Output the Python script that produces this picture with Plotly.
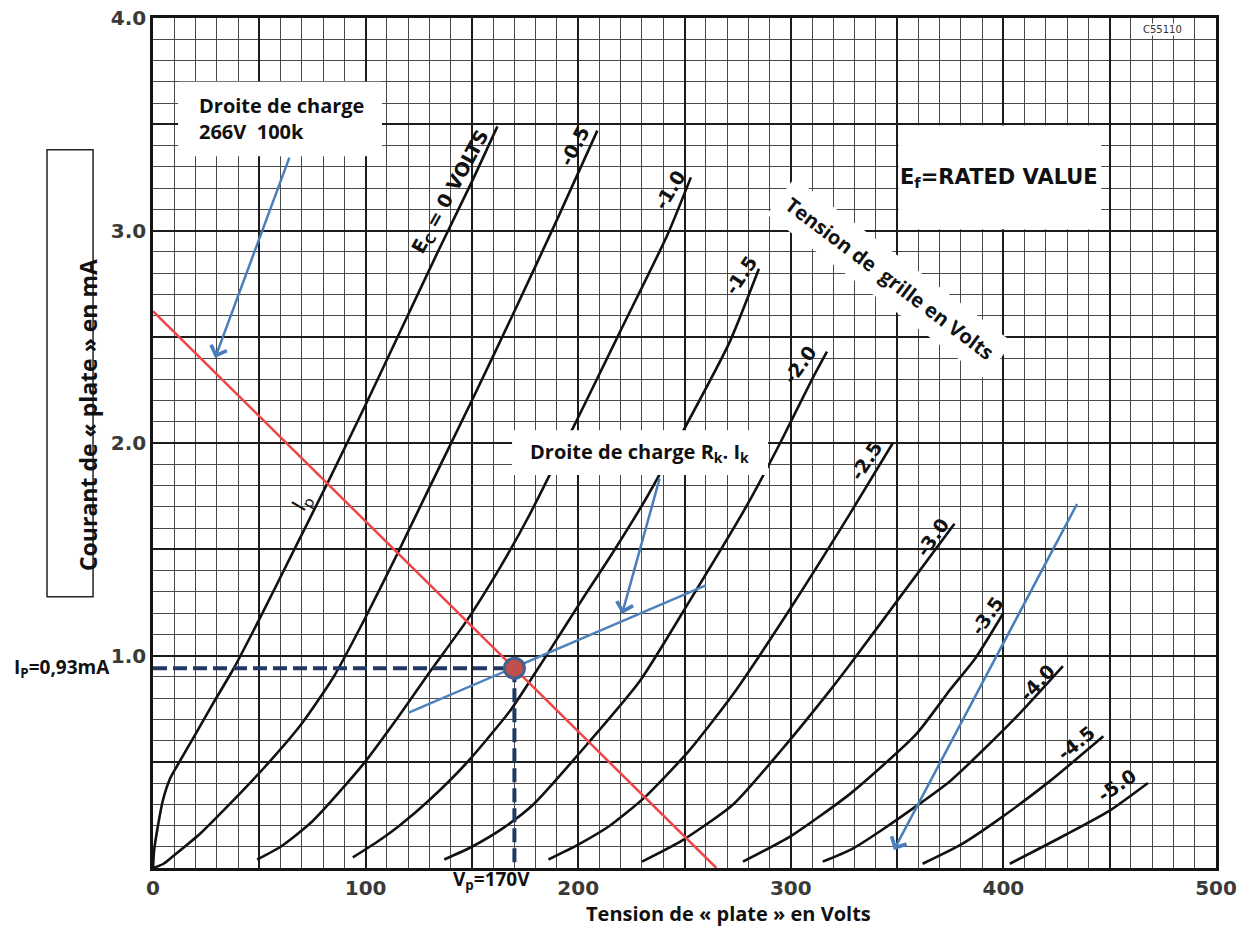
import plotly.graph_objects as go

# ---------------- data ----------------
ec0_v = [0, 0.5, 2, 4.7, 8, 11.3, 20, 28, 38, 51, 65, 83, 100, 117, 134, 150, 162]
ec0_i = [0, 0.08, 0.18, 0.32, 0.42, 0.48, 0.63, 0.77, 0.94, 1.19, 1.47, 1.83, 2.18, 2.54, 2.9, 3.23, 3.49]
m05_v = [0, 5, 10, 22, 35, 53, 70, 85, 100, 115, 130, 150, 170, 190, 209]
m05_i = [0, 0.02, 0.06, 0.16, 0.29, 0.48, 0.68, 0.9, 1.18, 1.48, 1.79, 2.2, 2.62, 3.05, 3.47]
m10_v = [49, 60, 75, 99, 116, 130, 148, 163, 177, 199, 220, 242, 253]
m10_i = [0.04, 0.1, 0.22, 0.49, 0.72, 0.92, 1.17, 1.41, 1.66, 2.1, 2.53, 2.98, 3.25]
m15_v = [94, 105, 116, 130, 148, 168, 176, 187, 201, 216, 232, 249, 271, 285]
m15_i = [0.05, 0.12, 0.2, 0.32, 0.5, 0.74, 0.86, 1.03, 1.25, 1.48, 1.74, 2.05, 2.47, 2.82]
m20_v = [137, 150, 165, 179, 204, 229, 252, 279, 295, 310, 317]
m20_i = [0.04, 0.1, 0.19, 0.30, 0.58, 0.88, 1.25, 1.7, 2.0, 2.3, 2.43]
m25_v = [186, 200, 215, 231, 252, 273, 301, 328, 348]
m25_i = [0.04, 0.11, 0.2, 0.33, 0.55, 0.82, 1.24, 1.67, 2.0]
m30_v = [230, 249, 273, 296, 318, 328, 351, 377]
m30_i = [0.03, 0.13, 0.30, 0.56, 0.83, 0.96, 1.27, 1.62]
m35_v = [277.5, 300, 328, 359, 375, 387, 400]
m35_i = [0.03, 0.15, 0.35, 0.63, 0.84, 0.99, 1.2]
m40_v = [315, 328, 343, 375, 406, 428]
m40_i = [0.03, 0.085, 0.18, 0.41, 0.71, 0.95]
m45_v = [362, 380, 398, 422, 447]
m45_i = [0.02, 0.11, 0.23, 0.41, 0.62]
m50_v = [403, 430, 450, 468]
m50_i = [0.02, 0.16, 0.27, 0.4]

curve_v = [ec0_v, m05_v, m10_v, m15_v, m20_v, m25_v, m30_v, m35_v, m40_v, m45_v, m50_v]
curve_i = [ec0_i, m05_i, m10_i, m15_i, m20_i, m25_i, m30_i, m35_i, m40_i, m45_i, m50_i]
curve_labels = ["E<sub>C</sub> = 0 VOLTS", "-0.5", "-1.0", "-1.5", "-2.0", "-2.5",
                "-3.0", "-3.5", "-4.0", "-4.5", "-5.0"]

load_v = [0, 265]
load_i = [2.62, 0]
cath_v = [120, 260]
cath_i = [0.73, 1.33]
op_v = 170
op_i = 0.94

x_tickvals = [0, 50, 100, 150, 200, 250, 300, 350, 400, 450, 500]
x_ticktext = ["0", "", "100", "", "200", "", "300", "", "400", "", "500"]
y_tickvals = [0, 0.5, 1.0, 1.5, 2.0, 2.5, 3.0, 3.5, 4.0]
y_ticktext = ["", "", "1.0", "", "2.0", "", "3.0", "", "4.0"]

# label placement (positions / angles, not data)
label_pos = [(140, 3.18, -61), (198, 3.40, -62), (243, 3.19, -59), (276.5, 2.79, -56),
             (304.5, 2.37, -54), (335.5, 1.92, -57), (366.5, 1.56, -55), (392.5, 1.19, -55),
             (416, 0.875, -47), (434, 0.59, -39), (453.5, 0.39, -34)]

fig = go.Figure()

for v, i in zip(curve_v, curve_i):
    fig.add_trace(go.Scatter(x=v, y=i, mode="lines",
                             line=dict(color="#111111", width=2.6, shape="spline", smoothing=0.6),
                             hoverinfo="skip", showlegend=False))

fig.add_trace(go.Scatter(x=load_v, y=load_i, mode="lines",
                         line=dict(color="#ee4646", width=2.5), showlegend=False))
fig.add_trace(go.Scatter(x=cath_v, y=cath_i, mode="lines",
                         line=dict(color="#4f81bd", width=2.5), showlegend=False))
fig.add_trace(go.Scatter(x=[0, op_v], y=[op_i, op_i], mode="lines",
                         line=dict(color="#1f3864", width=4, dash="14px,6px"), showlegend=False))
fig.add_trace(go.Scatter(x=[op_v, op_v], y=[op_i, 0], mode="lines",
                         line=dict(color="#1f3864", width=4, dash="14px,6px"), showlegend=False))
fig.add_trace(go.Scatter(x=[op_v], y=[op_i], mode="markers",
                         marker=dict(size=20, color="#c0504d", line=dict(color="#44618f", width=3)),
                         showlegend=False, cliponaxis=False))

shapes = [
    dict(type="rect", xref="x", yref="y", x0=11.8, x1=107.7, y0=3.35, y1=3.70,
         fillcolor="white", line=dict(width=0), layer="above"),
    dict(type="rect", xref="x", yref="y", x0=168.9, x1=289.3, y0=1.85, y1=2.06,
         fillcolor="white", line=dict(width=0), layer="above"),
    dict(type="rect", xref="x", yref="y", x0=350.7, x1=446, y0=3.006, y1=3.494,
         fillcolor="white", line=dict(width=0), layer="above"),
    dict(type="rect", xref="paper", yref="paper", x0=-0.0997, x1=-0.0564, y0=0.319, y1=0.845,
         fillcolor="white", line=dict(color="#222222", width=1.5), layer="above"),
]

ann = []
# curve labels
for (lx, ly, ang), txt in zip(label_pos, curve_labels):
    ann.append(dict(x=lx, y=ly, xref="x", yref="y", text=txt, showarrow=False, textangle=ang,
                    font=dict(family="DejaVu Sans", size=19, color="#111111", weight="bold")))
ann.append(dict(x=70, y=1.72, xref="x", yref="y", text="I<sub>p</sub>", showarrow=False,
                textangle=-60, font=dict(family="DejaVu Sans", size=21, color="#111111")))
ann.append(dict(x=398, y=3.245, xref="x", yref="y", text="E<sub>f</sub>=RATED VALUE", showarrow=False,
                font=dict(family="DejaVu Sans", size=21, color="#111111", weight="bold")))
ann.append(dict(x=474.6, y=3.948, xref="x", yref="y", text="C55110", showarrow=False,
                font=dict(family="DejaVu Sans", size=10, color="#333333"), bgcolor="white", borderpad=0))

# callouts
ann.append(dict(x=20.5, y=3.525, xref="x", yref="y", xanchor="left", align="left",
                text="Droite de charge<br>266V  100k", showarrow=False,
                font=dict(family="Open Sans", size=20, color="#111111", weight="bold")))
ann.append(dict(x=229, y=1.953, xref="x", yref="y",
                text="Droite de charge R<sub>k</sub>. I<sub>k</sub>", showarrow=False,
                font=dict(family="Open Sans", size=20, color="#111111", weight="bold")))
ann.append(dict(x=346.7, y=2.776, xref="x", yref="y", text="Tension de  grille en Volts",
                showarrow=False, textangle=37, bgcolor="white", borderpad=9,
                font=dict(family="Open Sans", size=20, color="#111111", weight="bold")))

# arrows
arrow_style = dict(showarrow=True, arrowhead=4, arrowsize=1.3, arrowwidth=2.5, arrowcolor="#4a7ebb",
                   text="", axref="x", ayref="y", xref="x", yref="y", standoff=0)
ann.append(dict(x=29.2, y=2.40, ax=64.4, ay=3.35, **arrow_style))
ann.append(dict(x=220.6, y=1.195, ax=238.5, ay=1.84, **arrow_style))
ann.append(dict(x=348.5, y=0.085, ax=435, ay=1.72, **arrow_style))

# Ip / Vp labels
ann.append(dict(x=-0.0386, y=op_i, xref="paper", yref="y", xanchor="right",
                text="I<sub>P</sub>=0,93mA", showarrow=False,
                font=dict(family="Open Sans", size=19, color="#111111", weight="bold")))
ann.append(dict(x=159, y=-0.033, xref="x", yref="paper",
                text="V<sub>p</sub>=170V", showarrow=False,
                font=dict(family="Open Sans", size=19, color="#111111", weight="bold")))
# axis titles
ann.append(dict(x=0.541, y=-0.0718, xref="paper", yref="paper",
                text="Tension de « plate » en Volts", showarrow=False,
                font=dict(family="Open Sans", size=20, color="#111111", weight="bold")))
ann.append(dict(x=-0.078, y=0.533, xref="paper", yref="paper", textangle=-90,
                text="Courant de « plate » en mA", showarrow=False,
                font=dict(family="Open Sans", size=23, color="#111111", weight="bold")))

fig.update_layout(
    width=1245, height=944,
    margin=dict(l=153, r=29, t=18, b=76, autoexpand=False),
    paper_bgcolor="white", plot_bgcolor="white",
    shapes=shapes, annotations=ann, showlegend=False,
    xaxis=dict(range=[0, 500], tickmode="array", tickvals=x_tickvals, ticktext=x_ticktext,
               automargin=False,
               showgrid=True, gridcolor="#1c1c1c", gridwidth=2.3, zeroline=False,
               showline=True, linecolor="#141414", linewidth=2.5, mirror=True, ticks="",
               tickfont=dict(family="DejaVu Sans", size=20, color="#3a3a3a", weight="bold"),
               minor=dict(dtick=10, tick0=0, showgrid=True, gridcolor="#4a4a4a", gridwidth=1.4)),
    yaxis=dict(range=[0, 4], tickmode="array", tickvals=y_tickvals, ticktext=y_ticktext,
               automargin=False,
               showgrid=True, gridcolor="#1c1c1c", gridwidth=2.3, zeroline=False,
               showline=True, linecolor="#141414", linewidth=2.5, mirror=True, ticks="",
               tickfont=dict(family="DejaVu Sans", size=20, color="#3a3a3a", weight="bold"),
               minor=dict(dtick=0.1, tick0=0, showgrid=True, gridcolor="#4a4a4a", gridwidth=1.4)),
)

fig.write_html("out.html", config={"displayModeBar": False},
               post_script="document.body.style.margin='0';")
